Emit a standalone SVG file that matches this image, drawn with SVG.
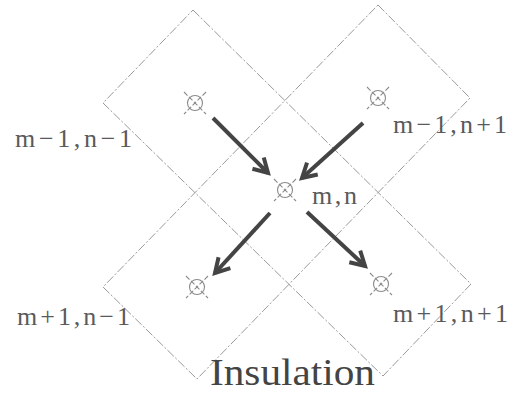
<svg xmlns="http://www.w3.org/2000/svg" xmlns:xlink="http://www.w3.org/1999/xlink" width="518" height="394" viewBox="0 0 518 394">
<style>
.band{fill:none;stroke:#9a9a9a;stroke-width:1;stroke-dasharray:9 2 2 2}
.sym{fill:none;stroke:#8a8a8a;stroke-width:1.1}
.lbl{font-family:"Liberation Serif","Times New Roman",serif;font-size:26px;fill:#5a5a5a}
.title{font-family:"Liberation Serif","Times New Roman",serif;font-size:37px;fill:#444}
.arr{stroke:#444;stroke-width:4;fill:none;marker-end:url(#head)}
</style>
<defs>
<marker id="head" markerUnits="userSpaceOnUse" viewBox="0 0 22 22" markerWidth="22" markerHeight="22" refX="17" refY="11" orient="auto">
<path d="M3,3 L17,11 L3,19" fill="none" stroke="#444" stroke-width="4" stroke-linejoin="miter"/>
</marker>
<g id="cell">
<circle r="7.5" class="sym"/>
<path d="M-11,-11 L11,11 M11,-11 L-11,11" class="sym" stroke-dasharray="5 2"/>
</g>
</defs>
<rect width="518" height="394" fill="#fff"/>
<g id="insulation">
<polygon class="band" points="193,10 471,284 383,376 103,103"/>
<polygon class="band" points="378,5 470,98 197,379 103,287"/>
<text class="title" x="210" y="385" textLength="165" lengthAdjust="spacingAndGlyphs">Insulation</text>
</g>
<g id="node-m-1-n-1">
<use xlink:href="#cell" x="195" y="103"/>
<text class="lbl" x="15" y="147" textLength="117" lengthAdjust="spacing">m−1,n−1</text>
</g>
<g id="node-m-1-n+1">
<use xlink:href="#cell" x="378" y="98"/>
<text class="lbl" x="393" y="133" textLength="114" lengthAdjust="spacing">m−1,n+1</text>
</g>
<g id="node-m-n">
<use xlink:href="#cell" x="285" y="190"/>
<text class="lbl" x="312" y="204" textLength="45" lengthAdjust="spacing">m,n</text>
</g>
<g id="node-m+1-n-1">
<use xlink:href="#cell" x="197" y="287"/>
<text class="lbl" x="17" y="325" textLength="113" lengthAdjust="spacing">m+1,n−1</text>
</g>
<g id="node-m+1-n+1">
<use xlink:href="#cell" x="381" y="284"/>
<text class="lbl" x="393" y="322" textLength="115" lengthAdjust="spacing">m+1,n+1</text>
</g>
<g id="connectors">
<line class="arr" x1="213" y1="118" x2="268" y2="173"/>
<line class="arr" x1="363" y1="123" x2="302" y2="178"/>
<line class="arr" x1="270" y1="213" x2="215" y2="273"/>
<line class="arr" x1="307" y1="212" x2="365" y2="266"/>
</g>
</svg>
